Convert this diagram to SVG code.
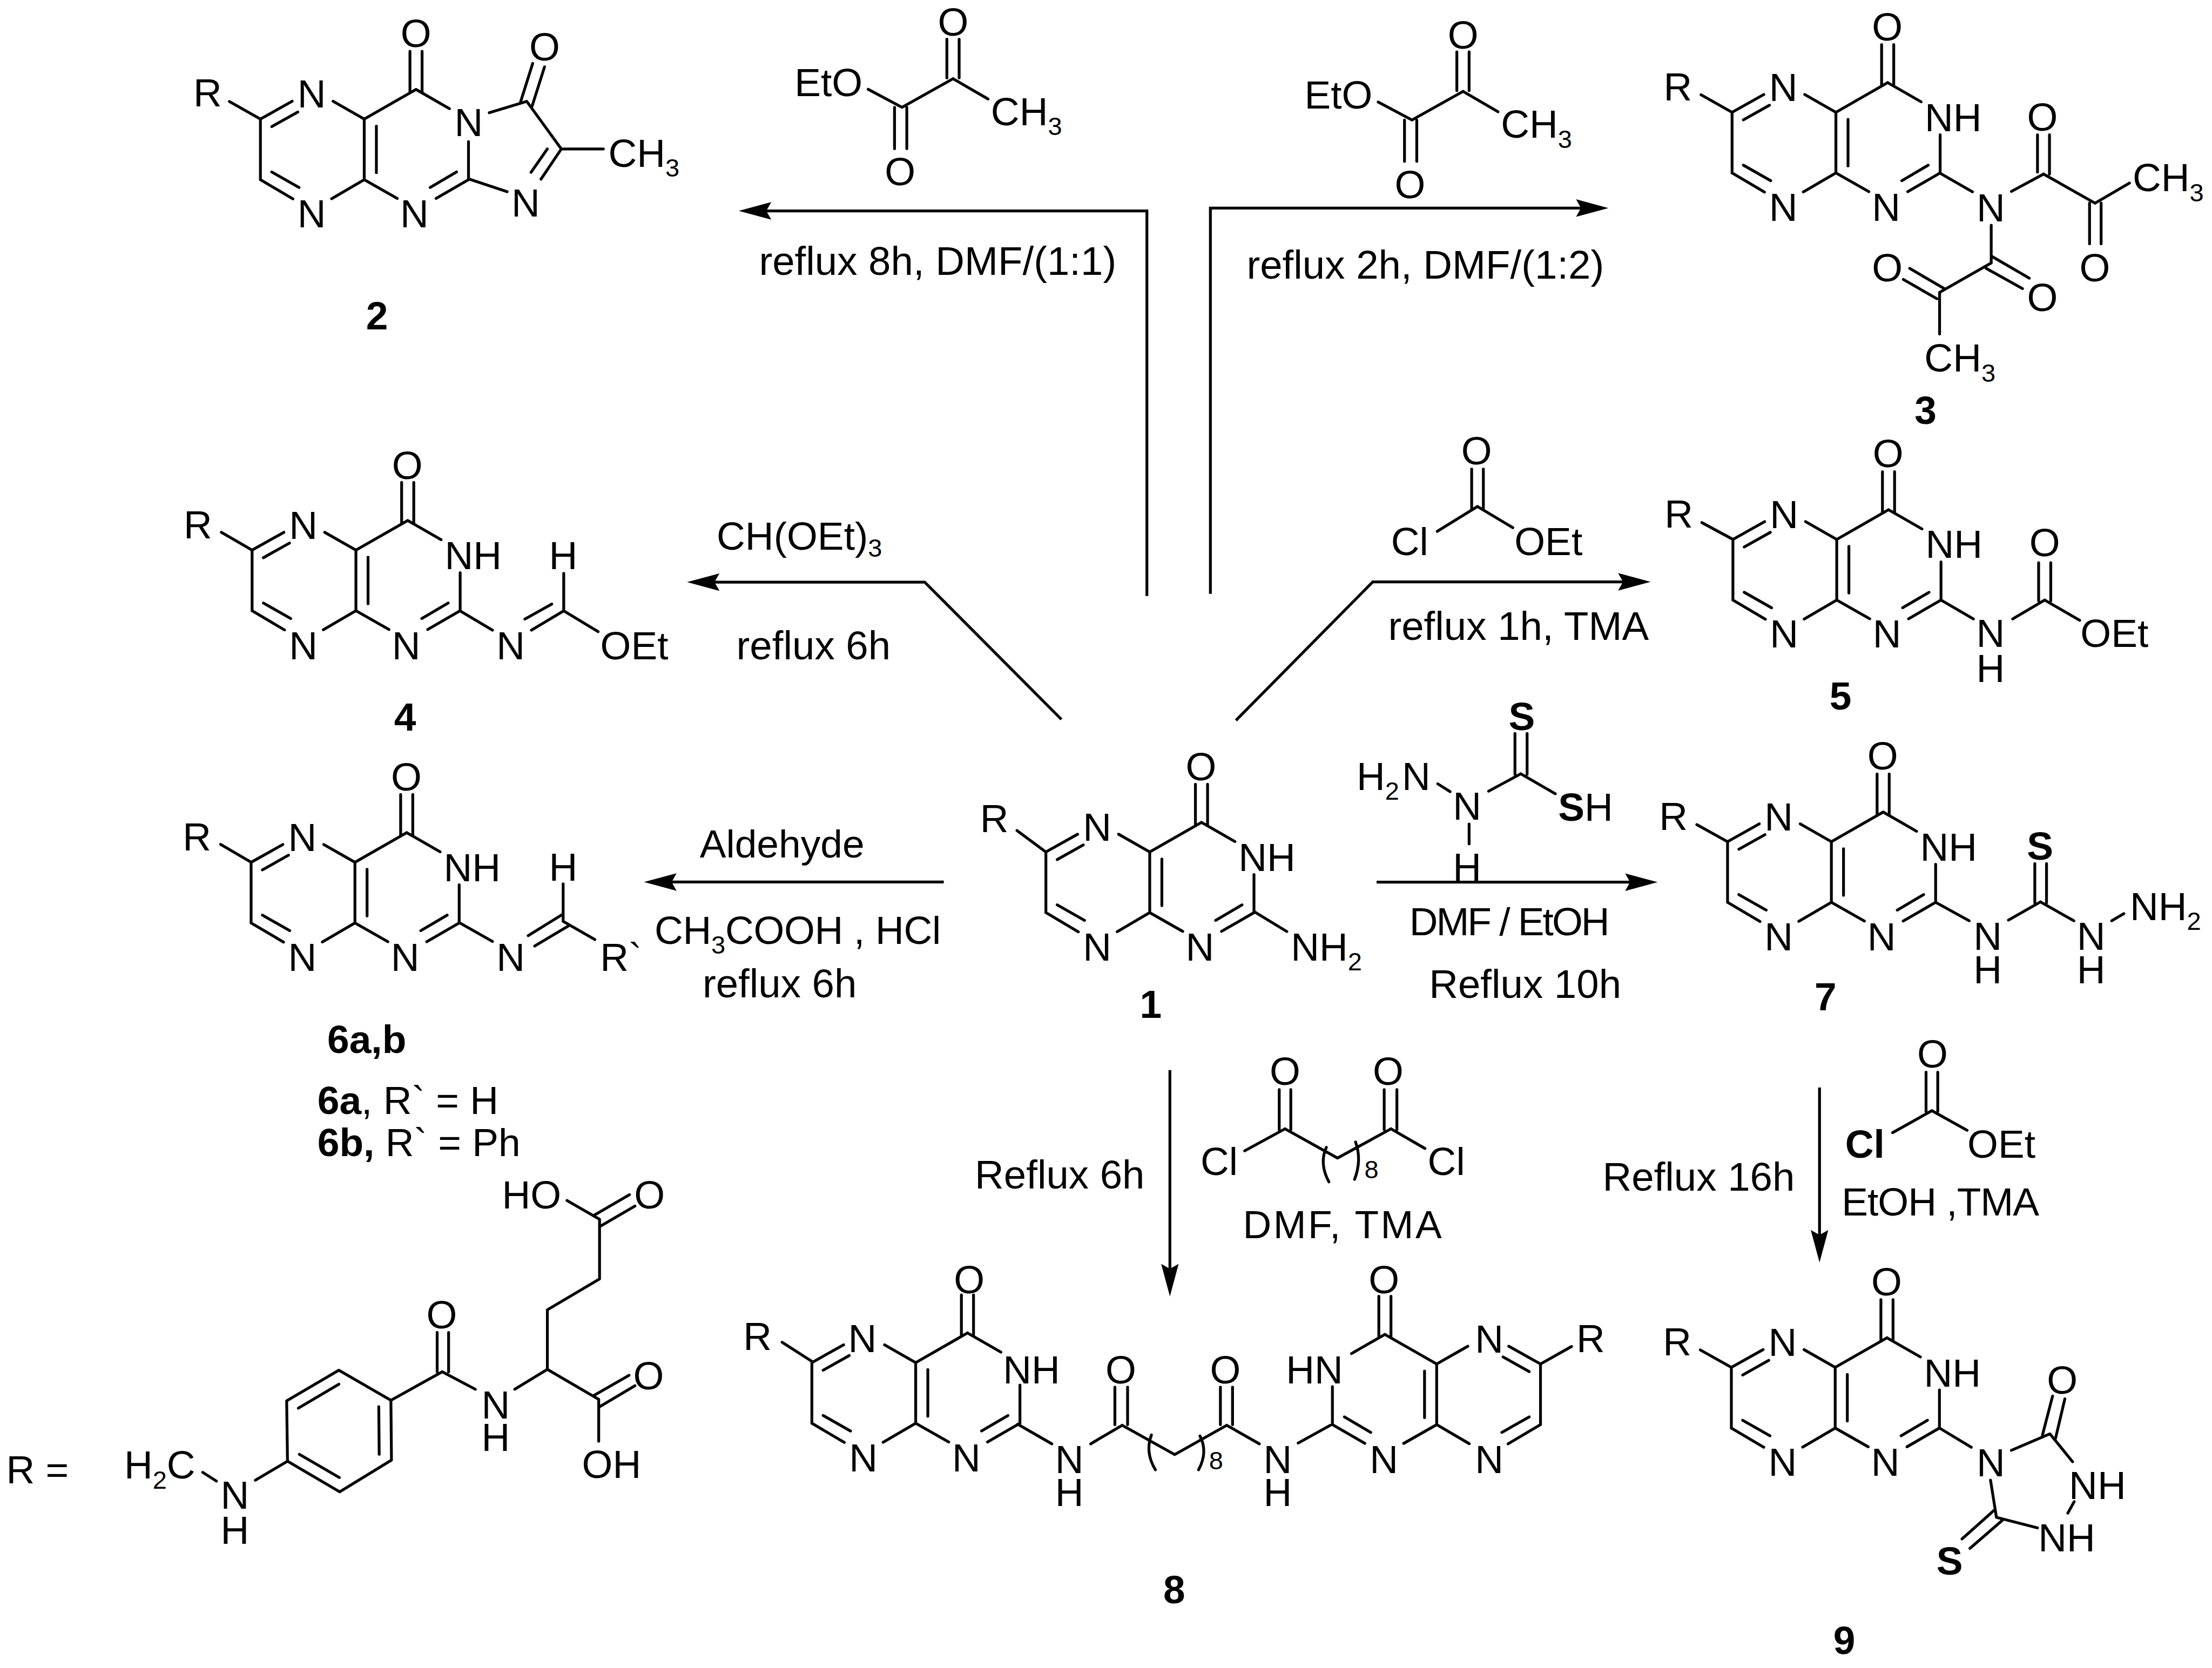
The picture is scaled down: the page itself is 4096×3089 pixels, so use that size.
<svg xmlns="http://www.w3.org/2000/svg" xmlns:xlink="http://www.w3.org/1999/xlink" width="4096" height="3089" viewBox="0 0 4096 3089">
<style>
text{font-family:"Liberation Sans",Arial,sans-serif;font-size:28px;fill:#000}
.m{text-anchor:middle}
.e{text-anchor:end}
.b{font-weight:bold}
.s{font-size:18px}
.l{font-size:28.5px}
.bond{fill:none;stroke:#000;stroke-width:2;stroke-linecap:round;stroke-linejoin:round}
.arrow{fill:none;stroke:#000;stroke-width:2;stroke-linejoin:miter;marker-end:url(#head)}
</style>
<defs>
<marker id="head" markerUnits="userSpaceOnUse" viewBox="0 -7 23 14" refX="13" refY="0" markerWidth="23" markerHeight="14" orient="auto"><path d="M0 -6.2L23 0L0 6.2L3.5 0Z" fill="#000"/></marker>
<path id="core" class="bond" d="M0 0V43M0 0L22.5 -12.6M8 5.4L26.5 -5M0 43L23 56.6M8 37.5L27.4 48.5M50.5 56.5L73.6 43M51.5 -12.6L73.6 0M73.6 0V43M82.2 5V38M73.6 0L110.3 -21M106 -19V-48M114.6 -19V-48M110.3 -21L134 -7.4M147.5 16V43M147.5 43L124.5 56.3M139 37.5L120.3 48.5M73.6 43L97 56.3"/>
</defs>
<rect width="4096" height="3089" fill="#fff"/>
<g transform="scale(2.61224)">
<g id="connectors">
<path class="arrow" d="M813 422.5V149.5H533.7"/>
<path class="arrow" d="M858 421V147.5H1130.2"/>
<path class="arrow" d="M752.4 510L655.5 412.7H497"/>
<path class="arrow" d="M876.1 510.7L973.1 412.5H1160"/>
<path class="arrow" d="M669 625.3H466.6"/>
<path class="arrow" d="M975.8 625.4H1165"/>
<path class="arrow" d="M829.3 758.6V909"/>
<path class="arrow" d="M1289.8 771V885"/>
</g>

<g id="compound-1">
<use href="#core" x="741.4" y="604"/>
<path class="bond" d="M720.9 588.8L741.4 604M889 646.3L912.2 660.4"/>
<text class="m" x="704.8" y="590">R</text><text class="m" x="777.7" y="596">N</text><text class="m" x="777.7" y="681">N</text><text class="m" x="850.6" y="681">N</text><text class="m" x="851.4" y="553">O</text><text x="877.9" y="617.5">NH</text>
<text x="915" y="681">NH<tspan class="s" dy="7">2</tspan></text>
<text class="m b" x="815.7" y="721.6">1</text>
</g>

<g id="compound-2">
<use href="#core" x="184.6" y="84.4"/>
<path class="bond" d="M162.6 72L184.6 84.4M346.8 79.9L373.4 71.9M369 72.3L377.6 45M377.2 75.2L386 47.4M373.4 71.9L397.9 105.6L383.5 127M388 105.6L376.4 122.2M332.7 127L359.5 135.9M397.9 105.6H427.7"/>
<text class="m" x="147.2" y="75.5">R</text><text class="m" x="220.9" y="76">N</text><text class="m" x="220.9" y="161">N</text><text class="m" x="293.8" y="161">N</text><text class="m" x="294.8" y="33.2">O</text><text class="m" x="332.2" y="96.5">N</text>
<text class="m" x="386" y="43">O</text><text class="m" x="372.6" y="153.5">N</text>
<text x="431.2" y="118.2">CH<tspan class="s" dy="7">3</tspan></text>
<text class="m b" x="267.2" y="233.6">2</text>
</g>

<g id="compound-3">
<use href="#core" x="1227.8" y="79.6"/>
<path class="bond" d="M1205.8 67.2L1227.8 79.6M1374.9 122.6L1398.2 136M1425.8 135.7L1448.6 123.4M1444.3 95.6V122M1452.8 95.6V123.4M1448.6 123.4L1485.1 144M1481.2 144V172.8M1489.4 144V172.8M1485.1 144L1509.5 129.8M1411.5 159.7V186.4M1411.5 181.5L1438.5 197.2M1408 190.3L1433.7 204.6M1411.5 186.4L1374.9 207.3M1378.9 205L1353.7 190.3M1373 211.8L1349.2 198.1M1374.9 207.3V236.8"/>
<text class="m" x="1189.4" y="71.1">R</text><text class="m" x="1264.1" y="71.6">N</text><text class="m" x="1264.1" y="156.6">N</text><text class="m" x="1337" y="156.6">N</text><text class="m" x="1337.8" y="28.6">O</text><text x="1364.3" y="93.1">NH</text>
<text class="m" x="1411.2" y="157.1">N</text><text class="m" x="1447.8" y="92.7">O</text><text class="m" x="1484.9" y="199.5">O</text><text class="m" x="1337.8" y="199.5">O</text><text class="m" x="1447.8" y="220.6">O</text>
<text x="1511.7" y="135.7">CH<tspan class="s" dy="7">3</tspan></text>
<text x="1364.1" y="263.5">CH<tspan class="s" dy="7">3</tspan></text>
<text class="m b" x="1365" y="300.6">3</text>
</g>

<g id="compound-4">
<use href="#core" x="178.7" y="390"/>
<path class="bond" d="M156.9 377.4L178.7 390M325.9 433L349.1 446.7M376.7 446.7L399.6 433.1M372.1 438.9L391.1 428.3M399.6 433.1V406.5M399.6 433.1L424 447.8"/>
<text class="m" x="140.3" y="381.5">R</text><text class="m" x="215" y="382">N</text><text class="m" x="215" y="467.5">N</text><text class="m" x="287.9" y="467.5">N</text><text class="m" x="288.7" y="339.5">O</text><text x="315.2" y="403.5">NH</text>
<text class="m" x="362" y="467.5">N</text><text class="m" x="399.2" y="403.5">H</text><text x="425.5" y="467.5">OEt</text>
<text class="m b" x="287.1" y="517.9">4</text>
</g>

<g id="compound-5">
<use href="#core" x="1228.4" y="382.4"/>
<path class="bond" d="M1206.4 370.5L1228.4 382.4M1375.9 425.4L1398.9 438.8M1426.7 438.8L1449.4 425.4M1445.1 425.9V398.9M1453.7 425.9V398.9M1449.4 425.4L1474.2 439.8"/>
<text class="m" x="1190" y="373.9">R</text><text class="m" x="1264.7" y="374.4">N</text><text class="m" x="1264.7" y="459">N</text><text class="m" x="1337.6" y="459">N</text><text class="m" x="1338.4" y="331">O</text><text x="1364.9" y="395.5">NH</text>
<text class="m"><tspan x="1411" y="458.7">N</tspan><tspan x="1411" y="483.5">H</tspan></text><text class="m" x="1449.4" y="394.3">O</text><text x="1474.7" y="458.7">OEt</text>
<text class="m b" x="1304.7" y="503.2">5</text>
</g>

<g id="compound-6">
<use href="#core" x="178" y="611.3"/>
<path class="bond" d="M156.4 598.6L178 611.3M325.5 654L349.1 667.4M374.4 663.3L398.7 648.3M379 670.7L403.1 656.3M399.2 653.2V626.6M399.2 653.2L421.7 666.1"/>
<text class="m" x="139.6" y="602.8">R</text><text class="m" x="214.3" y="603.3">N</text><text class="m" x="214.3" y="688.3">N</text><text class="m" x="287.2" y="688.3">N</text><text class="m" x="288" y="560.3">O</text><text x="314.5" y="624.8">NH</text>
<text class="m" x="362" y="688.3">N</text><text class="m" x="399.2" y="624.5">H</text><text x="425.4" y="688.3">R`</text>
<text class="b" x="232" y="746.5">6a,b</text>
<text x="225" y="789.7"><tspan class="b">6a</tspan>, R` = H</text>
<text x="225" y="819.5"><tspan class="b">6b,</tspan> R` = Ph</text>
</g>

<g id="compound-7">
<use href="#core" x="1224.6" y="596.7"/>
<path class="bond" d="M1202.8 584.6L1224.6 596.7M1372.1 639.7L1395.9 652.8M1423.7 652.3L1446.4 639.4M1442.4 640.1V612.3M1450.7 640.1V612.3M1446.4 639.4L1470.1 652.8M1496.9 652.8L1505.5 647.7"/>
<text class="m" x="1186.2" y="588.2">R</text><text class="m" x="1260.9" y="588.7">N</text><text class="m" x="1260.9" y="673.7">N</text><text class="m" x="1333.8" y="673.7">N</text><text class="m" x="1334.6" y="545.7">O</text><text x="1361.1" y="610.2">NH</text>
<text class="m"><tspan x="1409" y="673.5">N</tspan><tspan x="1409" y="697">H</tspan></text><text class="m"><tspan x="1482.3" y="673.5">N</tspan><tspan x="1482.3" y="697">H</tspan></text><text class="m b" x="1446.1" y="609.3">S</text>
<text x="1509.8" y="652.3">NH<tspan class="s" dy="7">2</tspan></text>
<text class="m b" x="1294" y="716.4">7</text>
</g>

<g id="compound-8">
<use href="#core" x="575.5" y="966"/>
<use href="#core" transform="translate(1092 967) scale(-1 1)"/>
<path class="bond" d="M554.4 951.6L576.1 965.5M1114 954.6L1092 967M721.4 1009.7L745.6 1023.6M773.1 1023.6L795.5 1010.4M790.3 1010V983.4M799.3 1010V983.4M795.5 1010.4L832.7 1031.2L869.6 1010.4M865.1 1010V983.4M873.7 1010V983.4M869.6 1010.4L892.7 1023.6M920.2 1023.1L943 1010.4"/>
<path class="bond" d="M816.2 1017.3Q811.5 1029.4 819 1042M850.6 1018Q856.5 1029.4 849.6 1042"/>
<text class="m" x="537" y="957">R</text><text class="m" x="611.3" y="958.5">N</text><text class="m" x="612" y="1043.3">N</text><text class="m" x="685" y="1043.3">N</text><text class="m" x="687" y="916.7">O</text><text x="711" y="980.7">NH</text>
<text class="m"><tspan x="758" y="1044.5">N</tspan><tspan x="758" y="1067.8">H</tspan></text><text class="m" x="794.5" y="980.6">O</text><text class="m" x="868.6" y="980.6">O</text><text class="m s" x="862" y="1041.5">8</text><text class="m"><tspan x="905.7" y="1044.5">N</tspan><tspan x="905.7" y="1067.8">H</tspan></text>
<text class="e" x="952" y="980.7">HN</text><text class="m" x="981" y="916.7">O</text><text class="m" x="981" y="1044.3">N</text><text class="m" x="1055.7" y="959">N</text><text class="m" x="1055.7" y="1044.3">N</text><text class="m" x="1127.5" y="958.5">R</text>
<text class="m b" x="832.4" y="1136.7">8</text>
</g>

<g id="compound-9">
<use href="#core" x="1227.3" y="969.4"/>
<path class="bond" d="M1205.3 957L1227.3 969.4M1374.8 1012.4L1397.4 1026M1425.8 1028.2L1453.1 1016.5L1469.2 1036.3M1447.8 1017.5L1455 989.7M1457 1020.1L1463.7 991.7M1470.3 1064.6L1465.8 1072.7M1415.2 1075.7L1444.3 1083.2M1411 1049.3L1415.2 1075.7M1413.3 1070.9L1390.8 1091M1419.4 1077.8L1396.4 1097.7"/>
<text class="m" x="1188.9" y="960.9">R</text><text class="m" x="1263.6" y="961.4">N</text><text class="m" x="1263.6" y="1046.4">N</text><text class="m" x="1336.5" y="1046.4">N</text><text class="m" x="1337.3" y="918.4">O</text><text x="1363.8" y="982.9">NH</text>
<text class="m" x="1411.2" y="1046.5">N</text><text class="m" x="1461.8" y="988">O</text><text x="1466.6" y="1062.5">NH</text><text x="1444.8" y="1099.7">NH</text><text class="m b" x="1382" y="1116.3">S</text>
<text class="m b" x="1307.3" y="1172.4">9</text>
</g>

<g id="r-group">
<path class="bond" d="M143.7 1043.8L153.4 1050M181 1049.4L203.8 1035.9L203.2 993.1L240.2 971.4L277.1 992.7L277.5 1035.1L240.8 1057.6L203.8 1035.9M211.5 998.3L240.2 981.3M268.5 997.3L268.8 1031M212.2 1031L240.5 1047.5M277.1 992.7L313.5 972.5M309.9 972.5V944.6M318 972.5V944.6M313.5 972.5L336.9 984.9M364.9 984.9L388 970.8V928.6L425 906.7V864.4M420.5 861.9L446.2 847M425 869.7L450.1 855M425 864.4L401.9 851.1M388 970.8L424.4 992.1M420.5 989.6L445.9 975M425 997.3L450.1 982.4M424.4 992.1V1021.7"/>
<text x="4.4" y="1051.6">R =</text>
<text x="88" y="1048.3">H<tspan class="s" dy="7">2</tspan><tspan dy="-7">C</tspan></text>
<text class="m"><tspan x="166.5" y="1069.6">N</tspan><tspan x="166.5" y="1094.4">H</tspan></text><text class="m" x="313.1" y="941.7">O</text><text class="m"><tspan x="351.4" y="1005.5">N</tspan><tspan x="351.4" y="1028.7">H</tspan></text><text x="355.8" y="856.7">HO</text><text class="m" x="460.4" y="856.7">O</text><text class="m" x="459.7" y="984.9">O</text><text x="412.5" y="1047.9">OH</text>
</g>

<g id="reagent-pyruvate-left">
<path class="bond" d="M671.2 27.8V55.2M679.9 27.8V55.2M675.6 55.8L639.4 76.1L615.4 63.3M634.1 76.1V105.4M642.8 76.1V105.4M675.6 55.8L700.4 70.2"/>
<text x="563.2" y="68.1">EtO</text><text class="m" x="675.6" y="25.4">O</text><text class="m" x="638" y="131.4">O</text>
<text x="702.4" y="88.7">CH<tspan class="s" dy="7">3</tspan></text>
<text class="l" x="538" y="194.7">reflux 8h, DMF/(1:1)</text>
</g>

<g id="reagent-pyruvate-right">
<path class="bond" d="M1032.7 36.8V64.2M1041.4 36.8V64.2M1037.1 64.8L1000.9 85.1L976.9 72.3M995.6 85.1V114.4M1004.3 85.1V114.4M1037.1 64.8L1061.9 79.2"/>
<text x="924.7" y="77.1">EtO</text><text class="m" x="1037.1" y="34.4">O</text><text class="m" x="999.5" y="140.4">O</text>
<text x="1063.9" y="97.7">CH<tspan class="s" dy="7">3</tspan></text>
<text class="l" x="883.7" y="197.7">reflux 2h, DMF/(1:2)</text>
</g>

<g id="reagent-orthoformate">
<text x="508" y="389.7">CH(OEt)<tspan class="s" dy="5">3</tspan></text>
<text class="l" x="522" y="467.3">reflux 6h</text>
</g>

<g id="reagent-chloroformate-top">
<path class="bond" d="M1043.2 332.5V361.3M1051.5 332.5V361.3M1047.3 359.1L1018.8 376.7M1047.3 359.1L1072.4 374.1"/>
<text class="m" x="1046.7" y="329.1">O</text><text x="986" y="393.5">Cl</text><text x="1073.5" y="393.5">OEt</text>
<text class="l" x="984" y="453.5">reflux 1h, TMA</text>
</g>

<g id="reagent-aldehyde">
<text x="496" y="608">Aldehyde</text>
<text x="464" y="669" textLength="203">CH<tspan class="s" dy="7">3</tspan><tspan dy="-7">COOH , HCl</tspan></text>
<text class="l" x="498" y="707">reflux 6h</text>
</g>

<g id="reagent-thiosemicarbazide">
<path class="bond" d="M1073.9 520V549M1082.5 520V549M1078 548.6L1055.2 560.9M1078 548.6L1102.5 562.7M1019.2 555.7L1027.9 561.2M1041.4 584.2V598.2"/>
<text class="m b" x="1078.7" y="517.7">S</text><text x="1104.5" y="582"><tspan class="b">S</tspan>H</text><text class="m" x="1040" y="581">N</text><text class="m" x="1040" y="624.2">H</text>
<text x="961.6" y="560">H<tspan class="s" dy="7">2</tspan><tspan dy="-7" dx="2">N</tspan></text>
<text x="999" y="663" textLength="142">DMF / EtOH</text>
<text class="l" x="1013" y="707.3">Reflux 10h</text>
</g>

<g id="reagent-diacid-chloride">
<path class="bond" d="M906.8 800.8V772.5M915 800.8V772.5M910.9 800.3L882.3 815.9M910.9 800.3L948.1 821L986 800.3M981.2 800.8V772.5M990.2 800.8V772.5M986 800.3L1010.1 814.2"/>
<path class="bond" d="M940.2 813.4Q935 824.8 942 837.9M960.9 809.6Q965.5 822.3 960.2 836.1"/>
<text class="m" x="910.9" y="769.2">O</text><text class="m" x="984" y="769.2">O</text><text x="851" y="833.1">Cl</text><text x="1012" y="833.1">Cl</text><text class="m s" x="972.2" y="835.4">8</text>
<text x="881" y="877.8" textLength="141">DMF, TMA</text>
<text class="l" x="691" y="842.5">Reflux 6h</text>
</g>

<g id="reagent-chloroformate-bottom">
<path class="bond" d="M1365.3 760.1V787.9M1373.6 760.1V787.9M1369.4 787.4L1341.6 803M1369.4 787.4L1394.4 801.3"/>
<text class="m" x="1369.9" y="756.8">O</text><text class="b" x="1308" y="820.7">Cl</text><text x="1394.6" y="820.7">OEt</text>
<text x="1305.5" y="861.7" textLength="140">EtOH ,TMA</text>
<text class="l" x="1136" y="844">Reflux 16h</text>
</g>
</g>
</svg>
